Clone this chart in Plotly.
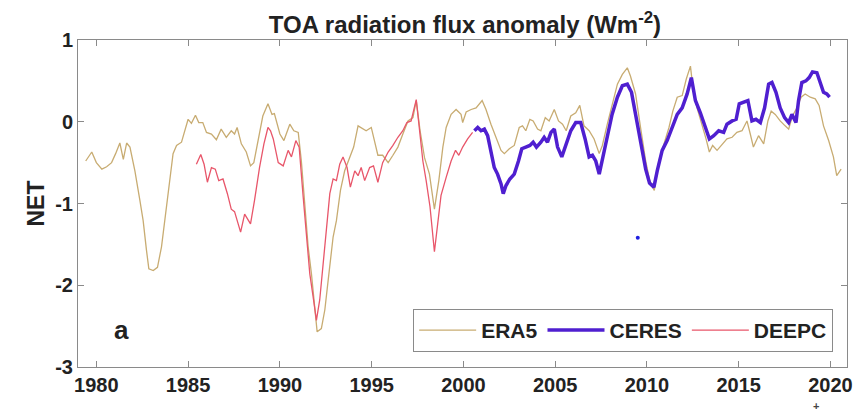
import plotly.graph_objects as go

era5_year = [1979.42,1979.75,1980.0,1980.3,1980.56,1980.83,1981.05,1981.28,1981.47,1981.65,1981.83,1982.1,1982.37,1982.55,1982.73,1982.86,1983.1,1983.33,1983.55,1983.77,1983.95,1984.18,1984.37,1984.64,1985.0,1985.18,1985.4,1985.58,1985.8,1986.0,1986.27,1986.54,1986.8,1987.08,1987.35,1987.53,1987.67,1987.9,1988.17,1988.4,1988.58,1988.8,1989.07,1989.35,1989.57,1989.7,1990.0,1990.22,1990.54,1990.76,1991.0,1991.17,1991.36,1991.54,1991.72,1991.9,1992.03,1992.26,1992.45,1992.63,1992.9,1993.08,1993.3,1993.53,1993.8,1994.02,1994.26,1994.43,1994.7,1994.98,1995.16,1995.34,1995.6,1995.9,1996.16,1996.43,1996.7,1996.98,1997.25,1997.43,1997.64,1997.88,1998.15,1998.42,1998.66,1998.88,1999.06,1999.33,1999.6,1999.87,1999.96,2000.15,2000.42,2000.69,2001.02,2001.23,2001.5,2001.78,2002.05,2002.23,2002.5,2002.77,2003.04,2003.22,2003.4,2003.62,2003.8,2004.04,2004.22,2004.46,2004.67,2004.95,2005.18,2005.4,2005.6,2005.85,2006.12,2006.34,2006.57,2006.85,2007.12,2007.4,2007.57,2007.84,2008.1,2008.39,2008.66,2008.93,2009.1,2009.38,2009.65,2009.93,2010.15,2010.4,2010.65,2010.92,2011.2,2011.41,2011.65,2011.92,2012.14,2012.37,2012.52,2012.73,2013.0,2013.22,2013.4,2013.58,2013.82,2014.1,2014.36,2014.64,2014.9,2015.18,2015.45,2015.63,2015.8,2016.08,2016.36,2016.59,2016.77,2016.99,2017.26,2017.53,2017.72,2017.93,2018.17,2018.4,2018.62,2018.9,2019.17,2019.38,2019.62,2019.9,2020.16,2020.34,2020.58]
era5_net = [-0.48,-0.37,-0.50,-0.58,-0.55,-0.50,-0.39,-0.26,-0.46,-0.26,-0.31,-0.60,-0.96,-1.21,-1.57,-1.80,-1.82,-1.78,-1.53,-1.13,-0.80,-0.39,-0.29,-0.25,0.03,-0.02,0.08,-0.01,-0.01,-0.13,-0.15,-0.22,-0.09,-0.19,-0.11,-0.15,-0.07,-0.27,-0.37,-0.54,-0.50,-0.25,0.07,0.22,0.09,0.10,-0.15,-0.23,-0.03,-0.11,-0.13,-0.48,-1.04,-1.53,-1.86,-2.26,-2.57,-2.53,-2.30,-1.94,-1.41,-1.21,-0.84,-0.60,-0.44,-0.31,-0.05,-0.07,-0.11,-0.07,-0.23,-0.41,-0.41,-0.50,-0.41,-0.31,-0.15,0.01,0.05,0.26,-0.11,-0.44,-0.64,-1.07,-0.72,-0.31,-0.07,0.09,0.15,0.09,-0.01,0.12,0.15,0.17,0.26,0.15,-0.03,-0.19,-0.35,-0.39,-0.33,-0.29,-0.07,-0.05,-0.11,0.03,0.01,-0.09,-0.11,0.05,0.01,0.15,0.01,-0.03,-0.11,0.07,0.11,0.20,-0.05,-0.11,-0.21,-0.39,-0.29,-0.03,0.22,0.46,0.58,0.66,0.56,0.34,-0.07,-0.48,-0.72,-0.84,-0.48,-0.27,-0.07,0.13,0.30,0.32,0.52,0.68,0.38,0.17,-0.03,-0.21,-0.37,-0.29,-0.35,-0.27,-0.21,-0.19,-0.13,-0.11,0.01,-0.15,-0.31,-0.17,-0.27,0.01,0.13,0.09,0.01,-0.05,-0.09,0.07,0.17,0.30,0.34,0.30,0.28,0.20,-0.05,-0.23,-0.43,-0.66,-0.58]

deepc_year = [1985.45,1985.69,1985.87,1986.05,1986.27,1986.48,1986.67,1986.9,1987.14,1987.35,1987.53,1987.68,1987.86,1988.08,1988.26,1988.4,1988.62,1988.89,1989.13,1989.35,1989.49,1989.64,1989.91,1990.18,1990.45,1990.63,1990.87,1991.05,1991.27,1991.45,1991.63,1991.81,1991.99,1992.17,1992.35,1992.54,1992.72,1992.9,1993.08,1993.26,1993.44,1993.66,1993.84,1994.08,1994.26,1994.43,1994.62,1994.89,1995.1,1995.34,1995.6,1995.9,1996.16,1996.43,1996.7,1996.92,1997.15,1997.43,1997.6,1997.79,1997.97,1998.18,1998.42,1998.6,1998.78,1999.06,1999.33,1999.57,1999.75,1999.96,2000.23,2000.5]
deepc_net = [-0.52,-0.40,-0.52,-0.74,-0.56,-0.58,-0.72,-0.70,-0.88,-1.07,-1.10,-1.21,-1.35,-1.13,-1.19,-1.25,-0.96,-0.56,-0.27,-0.07,-0.11,-0.21,-0.50,-0.54,-0.35,-0.43,-0.23,-0.31,-0.92,-1.45,-1.86,-2.14,-2.43,-2.18,-1.78,-1.33,-0.88,-0.70,-0.72,-0.52,-0.43,-0.56,-0.80,-0.60,-0.66,-0.56,-0.72,-0.56,-0.54,-0.74,-0.50,-0.37,-0.29,-0.19,-0.11,-0.01,0.01,0.27,-0.11,-0.48,-0.72,-1.04,-1.59,-1.21,-0.90,-0.68,-0.48,-0.35,-0.41,-0.31,-0.21,-0.13]

ceres_year = [2000.6,2000.78,2000.96,2001.14,2001.32,2001.5,2001.68,2001.86,2002.05,2002.17,2002.32,2002.53,2002.77,2003.0,2003.18,2003.4,2003.62,2003.8,2003.98,2004.22,2004.4,2004.58,2004.77,2004.95,2005.13,2005.36,2005.58,2005.85,2006.12,2006.39,2006.63,2006.85,2007.03,2007.21,2007.4,2007.61,2007.84,2008.1,2008.39,2008.66,2008.93,2009.16,2009.38,2009.65,2009.93,2010.14,2010.38,2010.56,2010.83,2011.1,2011.38,2011.65,2011.92,2012.19,2012.42,2012.64,2012.91,2013.18,2013.4,2013.64,2013.91,2014.18,2014.36,2014.64,2014.86,2015.03,2015.27,2015.5,2015.72,2015.94,2016.18,2016.41,2016.63,2016.81,2017.03,2017.26,2017.5,2017.72,2017.9,2018.12,2018.26,2018.44,2018.66,2018.84,2019.02,2019.26,2019.44,2019.62,2019.8,2019.95]
ceres_net = [-0.11,-0.07,-0.11,-0.09,-0.17,-0.35,-0.56,-0.64,-0.76,-0.88,-0.78,-0.70,-0.64,-0.48,-0.33,-0.31,-0.29,-0.25,-0.31,-0.25,-0.19,-0.25,-0.13,-0.09,-0.31,-0.43,-0.29,-0.11,-0.01,-0.01,-0.21,-0.43,-0.41,-0.48,-0.64,-0.43,-0.19,0.09,0.30,0.44,0.46,0.36,0.09,-0.27,-0.58,-0.75,-0.80,-0.60,-0.35,-0.23,-0.07,0.09,0.17,0.34,0.54,0.26,0.11,-0.05,-0.21,-0.17,-0.11,-0.13,-0.03,0.01,0.03,0.22,0.24,0.26,0.01,0.03,-0.01,0.17,0.46,0.48,0.36,0.17,0.05,-0.01,0.09,-0.01,0.26,0.48,0.50,0.54,0.61,0.60,0.48,0.36,0.34,0.30]

stray_year = [2009.5]
stray_net = [-1.42]

x_ticks = [1980, 1985, 1990, 1995, 2000, 2005, 2010, 2015, 2020]
x_tick_labels = ["1980", "1985", "1990", "1995", "2000", "2005", "2010", "2015", "2020"]
y_ticks = [-3, -2, -1, 0, 1]
y_tick_labels = ["-3", "-2", "-1", "0", "1"]

FONT = "Liberation Sans, Arial, sans-serif"
TXT = "#222222"

fig = go.Figure()
fig.add_trace(go.Scatter(x=era5_year, y=era5_net, mode="lines", name="<b>ERA5</b>",
                         line=dict(color="#C8AC72", width=1.3)))
fig.add_trace(go.Scatter(x=ceres_year, y=ceres_net, mode="lines", name="<b>CERES</b>",
                         line=dict(color="#4F1FD0", width=3.5)))
fig.add_trace(go.Scatter(x=deepc_year, y=deepc_net, mode="lines", name="<b>DEEPC</b>",
                         line=dict(color="#E8566A", width=1.3)))
fig.add_trace(go.Scatter(x=stray_year, y=stray_net, mode="markers", showlegend=False,
                         marker=dict(color="#2020E0", size=4)))

axis_common = dict(showgrid=False, zeroline=False, showline=True, linecolor="#8a8a8a",
                   linewidth=1, mirror="ticks", ticks="inside", ticklen=6,
                   tickcolor="#8a8a8a",
                   tickfont=dict(family=FONT, size=20, color=TXT))

fig.update_layout(
    width=865, height=416,
    margin=dict(l=78, r=16, t=40, b=49),
    paper_bgcolor="white", plot_bgcolor="white",
    title=dict(text="<b>TOA radiation flux anomaly (Wm<sup>-2</sup>)</b>", x=0.5375, xanchor="center",
               y=0.94, yanchor="middle",
               font=dict(family=FONT, size=24, color=TXT)),
    xaxis=dict(range=[1979.0, 2020.9], tickvals=x_ticks,
               ticktext=["<b>%s</b>" % t for t in x_tick_labels], **axis_common),
    yaxis=dict(range=[-3, 1], tickvals=y_ticks,
               ticktext=["<b>%s</b>" % t for t in y_tick_labels],
               title=dict(text="<b>NET</b>", standoff=4,
                          font=dict(family=FONT, size=23, color=TXT)),
               **axis_common),
    legend=dict(orientation="h", x=0.982, xanchor="right", y=0.046, yanchor="bottom",
                bgcolor="white", bordercolor="#8a8a8a", borderwidth=1,
                font=dict(family=FONT, size=21, color=TXT),
                itemwidth=57, tracegroupgap=0),
    annotations=[
        dict(text="<b>a</b>", x=0.056, y=0.113, xref="paper", yref="paper", showarrow=False,
             xanchor="center", yanchor="middle",
             font=dict(family=FONT, size=26, color=TXT)),
        dict(text="<b>+</b>", x=0.96, y=-0.118, xref="paper", yref="paper", showarrow=False,
             xanchor="center", yanchor="middle",
             font=dict(family=FONT, size=11, color="#444444")),
    ],
)

fig.write_html("out.html", config={"displayModeBar": False},
               post_script="document.body.style.margin='0px';")
